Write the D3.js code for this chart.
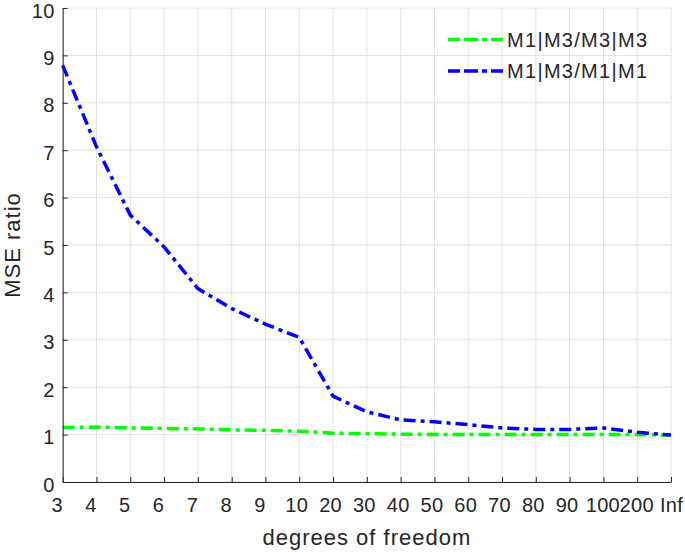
<!DOCTYPE html>
<html lang="en">
  <head>
    <meta charset="UTF-8" />
    <title>MSE ratio</title>
    <script src="https://d3js.org/d3.v7.min.js"></script>
    <style>
      body {
        margin: 0;
        background: #fff;
      }
      text {
        font-family: "Liberation Sans", Arial, sans-serif;
        fill: #262626;
      }
    </style>
  </head>
  <body>
    <div class="chart"></div>
  </body>

  <script>
    // data
    var dofLabels = ["3", "4", "5", "6", "7", "8", "9", "10", "20", "30", "40", "50", "60", "70", "80", "90", "100", "200", "Inf"];
    var ratioM3 = [1.15, 1.16, 1.14, 1.13, 1.12, 1.10, 1.09, 1.07, 1.03, 1.02, 1.01, 1.0, 1.0, 1.0, 1.0, 1.0, 1.0, 1.0, 0.99];
    var ratioM1 = [8.79, 7.07, 5.63, 4.96, 4.08, 3.66, 3.33, 3.05, 1.81, 1.48, 1.31, 1.27, 1.21, 1.14, 1.11, 1.11, 1.14, 1.05, 0.99];
    var yTicks = [0, 1, 2, 3, 4, 5, 6, 7, 8, 9, 10];
    var seriesNames = ["M1|M3/M3|M3", "M1|M3/M1|M1"];
    var seriesColors = ["#00ff00", "#0000ff"];

    var series = [ratioM3, ratioM1].map(function (vals, i) {
      return {
        name: seriesNames[i],
        color: seriesColors[i],
        values: vals.map(function (v, j) {
          return { x: dofLabels[j], y: v };
        }),
      };
    });

    var W = 685, H = 552;
    var margin = { top: 8, right: 14, bottom: 70, left: 62.7 };
    var width = W - margin.left - margin.right;
    var height = H - margin.top - margin.bottom;

    var svgContainer = d3
      .select(".chart")
      .append("svg")
      .attr("width", W)
      .attr("height", H);

    var svg = svgContainer
      .append("g")
      .attr("transform", "translate(" + margin.left + "," + margin.top + ")");

    var xScale = d3.scalePoint().domain(dofLabels).range([0, width]);
    var yScale = d3.scaleLinear().domain([0, 10]).range([height, 0]);

    // grid
    svg
      .append("g")
      .selectAll("line.v")
      .data(dofLabels)
      .enter()
      .append("line")
      .attr("x1", (d) => xScale(d))
      .attr("x2", (d) => xScale(d))
      .attr("y1", 0)
      .attr("y2", height)
      .attr("stroke", "#e2e2e2")
      .attr("stroke-width", 1);

    svg
      .append("g")
      .selectAll("line.h")
      .data(yTicks)
      .enter()
      .append("line")
      .attr("x1", 0)
      .attr("x2", width)
      .attr("y1", (d) => yScale(d))
      .attr("y2", (d) => yScale(d))
      .attr("stroke", "#e2e2e2")
      .attr("stroke-width", 1);

    // lines
    var line = d3
      .line()
      .x((d) => xScale(d.x))
      .y((d) => yScale(d.y));

    svg
      .selectAll("path.series")
      .data(series)
      .enter()
      .append("path")
      .attr("class", "series")
      .attr("fill", "none")
      .attr("stroke", (d) => d.color)
      .attr("stroke-width", 3.5)
      .attr("stroke-dasharray", "12,5,4,5")
      .attr("d", (d) => line(d.values));

    // axes (ticks point inward, MATLAB style)
    var xAxis = d3.axisBottom(xScale).tickSize(-5).tickSizeOuter(0).tickPadding(12);
    var gx = svg.append("g").attr("transform", `translate(0, ${height})`).call(xAxis);
    gx.selectAll("text")
      .style("font-size", "20px")
      .style("letter-spacing", "0.3px")
      .attr("y", 16)
      .attr("dy", "0.71em")
      .attr("dx", (d) => (d === "Inf" ? 0 : d.length === 1 ? -6 : d.length === 2 ? -3 : -1));

    var yAxis = d3.axisLeft(yScale).tickValues(yTicks).tickSize(-5).tickSizeOuter(0).tickPadding(8);
    var gy = svg.append("g").call(yAxis);
    gy.selectAll("text")
      .style("font-size", "20px")
      .style("letter-spacing", "0.3px")
      .attr("dy", "0.45em");

    svg.selectAll(".domain").attr("stroke", "#262626");
    svg.selectAll(".tick line").attr("stroke", "#262626");
    svg.selectAll(".tick text").attr("fill", "#262626").style("font-family", "'Liberation Sans', Arial, sans-serif");

    // axis titles
    svg
      .append("text")
      .attr("x", width / 2)
      .attr("y", 545 - margin.top)
      .attr("text-anchor", "middle")
      .style("font-size", "22px")
      .style("letter-spacing", "1px")
      .text("degrees of freedom");

    svg
      .append("text")
      .attr("transform", "translate(" + (20 - margin.left) + "," + height / 2 + ") rotate(-90)")
      .attr("text-anchor", "middle")
      .style("font-size", "22px")
      .style("letter-spacing", "1px")
      .text("MSE ratio");

    // legend
    var legend = svgContainer
      .append("g")
      .selectAll("g")
      .data(series)
      .enter()
      .append("g")
      .attr("transform", (d, i) => "translate(448," + (39.5 + i * 31.5) + ")");

    legend
      .append("line")
      .attr("x1", 0)
      .attr("x2", 56)
      .attr("stroke", (d) => d.color)
      .attr("stroke-width", 3.5)
      .attr("stroke-dasharray", "12,4,14,4,5,4");

    legend
      .append("text")
      .attr("x", 59)
      .attr("y", 0)
      .attr("dy", "0.36em")
      .style("font-size", "20px")
      .style("letter-spacing", "1.3px")
      .text((d) => d.name);
  </script>
</html>
